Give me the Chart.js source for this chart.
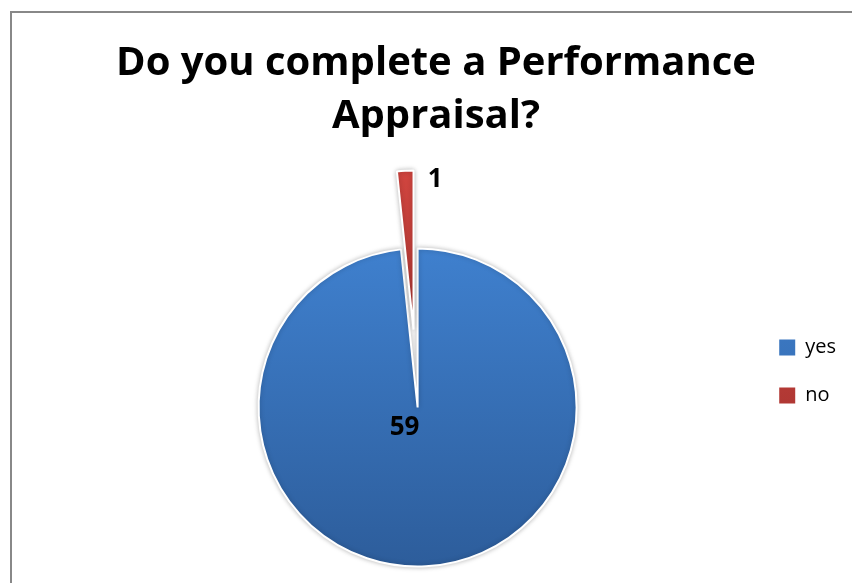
<!DOCTYPE html>
<html lang="en">
<head>
  <meta charset="UTF-8" />
  <title>Performance Appraisal</title>
  <script src="https://cdn.jsdelivr.net/npm/chart.js"></script>
  <style>
    body {
      margin: 0;
      padding: 0;
      background: #fff;
      overflow: hidden;
      font-family: 'Open Sans', sans-serif;
    }

    .chart-box {
      position: relative;
      width: 852px;
      height: 583px;
    }

    .chart-title {
      position: absolute;
      left: 0;
      top: 33px;
      width: 872px;
      margin: 0;
      text-align: center;
      font-size: 40px;
      font-weight: bold;
      line-height: 53px;
      color: #000;
    }

    /* grey frame of the chart object, runs off the right and bottom */
    .frame {
      position: absolute;
      left: 10px;
      top: 11px;
      width: 900px;
      height: 650px;
      border: 2px solid #888;
      pointer-events: none;
    }
  </style>
</head>
<body>
  <div class="chart-box">
    <canvas id="appraisalChart"></canvas>
    <h1 class="chart-title" id="chartTitle"></h1>
    <div class="frame"></div>
  </div>

  <script>
    const categories = ['yes', 'no'];
    const answers = [59, 1];
    const titleLines = ['Do you complete a Performance', 'Appraisal?'];

    const pieRadius = 159;
    const sliceShades = [['#3f80ce', '#2d5d9b'], ['#d0453f', '#8f2a28']];
    const pullOut = { no: 78 };                       // exploded slice distance
    const labelNudge = { yes: [-13, 20], no: [30, 9] };
    const fontFamily = '"Open Sans", sans-serif';

    document.getElementById('chartTitle').innerHTML = titleLines.join('<br>');
    Chart.defaults.font.family = fontFamily;

    function sliceFill(c) {
      const shade = sliceShades[c.dataIndex] || sliceShades[0];
      const area = c.chart.chartArea;
      if (!area) return shade[0];
      const cy = (area.top + area.bottom) / 2;
      const g = c.chart.ctx.createLinearGradient(0, cy - pieRadius, 0, cy + pieRadius);
      g.addColorStop(0, shade[0]);
      g.addColorStop(1, shade[1]);
      return g;
    }

    // draws the arcs itself so one slice can be pulled out without growing
    const explodedPie = {
      id: 'explodedPie',
      beforeDatasetsDraw(chart) {
        const ctx = chart.ctx;
        const meta = chart.getDatasetMeta(0);
        ctx.save();
        ctx.shadowColor = 'rgba(0, 0, 0, 0.25)';
        ctx.shadowBlur = 5;
        meta.data.forEach((arc, i) => {
          const pull = pullOut[categories[i]] || 0;
          const mid = (arc.startAngle + arc.endAngle) / 2;
          ctx.save();
          ctx.translate(Math.cos(mid) * pull, Math.sin(mid) * pull);
          arc.draw(ctx);
          ctx.restore();
        });
        ctx.restore();
        return false;
      }
    };

    // value labels; afterDraw because the datasets hook above is cancelled
    const valueLabels = {
      id: 'valueLabels',
      afterDraw(chart) {
        const ctx = chart.ctx;
        const meta = chart.getDatasetMeta(0);
        ctx.save();
        ctx.font = 'bold 26px ' + fontFamily;
        ctx.fillStyle = '#000';
        ctx.textAlign = 'center';
        ctx.textBaseline = 'middle';
        meta.data.forEach((arc, i) => {
          const key = categories[i];
          const pull = pullOut[key] || 0;
          const nudge = labelNudge[key];
          let x = arc.x, y = arc.y;
          if (pull) {
            const mid = (arc.startAngle + arc.endAngle) / 2;
            const d = arc.outerRadius + pull;
            x += Math.cos(mid) * d;
            y += Math.sin(mid) * d;
          }
          ctx.fillText(String(answers[i]), x + nudge[0], y + nudge[1]);
        });
        ctx.restore();
      }
    };

    const ctxPie = document.getElementById('appraisalChart').getContext('2d');
    const appraisalChart = new Chart(ctxPie, {
      type: 'pie',
      data: {
        labels: categories,
        datasets: [{
          data: answers,
          backgroundColor: sliceFill,
          borderColor: '#fff',
          borderWidth: 2
        }]
      },
      options: {
        responsive: true,
        maintainAspectRatio: false,
        animation: false,
        radius: pieRadius,
        layout: {
          padding: { top: 247, bottom: 15, left: 84, right: 6 }
        },
        plugins: {
          legend: {
            position: 'right',
            align: 'start',
            title: {
              display: true,
              text: '',
              padding: 24,
              font: { size: 12, lineHeight: 1.2 }
            },
            labels: {
              boxWidth: 16,
              boxHeight: 16,
              padding: 28,
              color: '#000',
              font: { size: 20 },
              generateLabels(chart) {
                const items = Chart.overrides.pie.plugins.legend.labels.generateLabels(chart);
                items.forEach(item => { item.lineWidth = 0; });
                return items;
              }
            }
          },
          tooltip: { enabled: false }
        }
      },
      plugins: [explodedPie, valueLabels]
    });
  </script>
</body>
</html>
